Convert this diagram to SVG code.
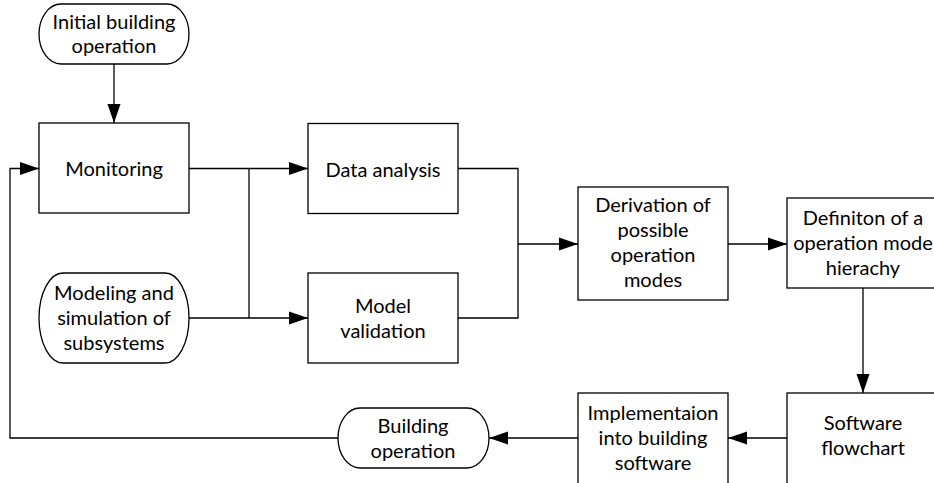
<svg xmlns="http://www.w3.org/2000/svg" width="934" height="483" viewBox="0 0 934 483">
<style>
.box{fill:#fff;stroke:#000;stroke-width:1.3}
.lbl{font-family:Lato,"Open Sans","Liberation Sans",sans-serif;font-size:20px;fill:#000;text-anchor:middle}
.conn{fill:none;stroke:#000;stroke-width:1.3}
</style>
<defs>
<marker id="arr" markerUnits="userSpaceOnUse" markerWidth="22" markerHeight="16" viewBox="-20 -8 22 16" refX="0" refY="0" orient="auto">
<path d="M0,0 L-19,-6.5 L-19,6.5 Z" fill="#000"/>
</marker>
</defs>
<rect width="934" height="483" fill="#fff"/>
<g id="connectors">
<path class="conn" d="M114,64 V123" marker-end="url(#arr)"/>
<path class="conn" d="M189,168.5 H308" marker-end="url(#arr)"/>
<path class="conn" d="M189,318 H308" marker-end="url(#arr)"/>
<path class="conn" d="M249,168.5 V318"/>
<path class="conn" d="M458,168.5 H518 V244 H578" marker-end="url(#arr)"/>
<path class="conn" d="M458,318 H518 V244"/>
<path class="conn" d="M728,244 H787" marker-end="url(#arr)"/>
<path class="conn" d="M863,288 V393" marker-end="url(#arr)"/>
<path class="conn" d="M787,438 H728" marker-end="url(#arr)"/>
<path class="conn" d="M578,438 H489" marker-end="url(#arr)"/>
<path class="conn" d="M338,438 H10 V168.5 H39" marker-end="url(#arr)"/>
</g>
<g id="initial">
<rect class="box" x="39" y="4" width="150" height="60" rx="22" ry="30"/>
<text class="lbl" x="114" y="29">Initial building</text>
<text class="lbl" x="114" y="53">operation</text>
</g>
<g id="monitoring">
<rect class="box" x="39" y="123" width="150" height="90"/>
<text class="lbl" x="114" y="176">Monitoring</text>
</g>
<g id="modeling">
<rect class="box" x="39" y="273" width="150" height="90" rx="24" ry="45"/>
<text class="lbl" x="114" y="300">Modeling and</text>
<text class="lbl" x="114" y="325">simulation of</text>
<text class="lbl" x="114" y="350">subsystems</text>
</g>
<g id="data-analysis">
<rect class="box" x="308" y="123.5" width="150" height="90"/>
<text class="lbl" x="383" y="177">Data analysis</text>
</g>
<g id="model-validation">
<rect class="box" x="308" y="273" width="150" height="90"/>
<text class="lbl" x="383" y="313">Model</text>
<text class="lbl" x="383" y="338">validation</text>
</g>
<g id="derivation">
<rect class="box" x="578" y="187" width="150" height="113"/>
<text class="lbl" x="653" y="212">Derivation of</text>
<text class="lbl" x="653" y="237">possible</text>
<text class="lbl" x="653" y="262">operation</text>
<text class="lbl" x="653" y="287">modes</text>
</g>
<g id="definition">
<rect class="box" x="787" y="198" width="150" height="90"/>
<text class="lbl" x="863" y="225">Definiton of a</text>
<text class="lbl" x="863" y="250">operation mode</text>
<text class="lbl" x="863" y="275">hierachy</text>
</g>
<g id="software-flowchart">
<rect class="box" x="787" y="393" width="150" height="92"/>
<text class="lbl" x="863" y="430">Software</text>
<text class="lbl" x="863" y="455">flowchart</text>
</g>
<g id="implementation">
<rect class="box" x="578" y="393" width="150" height="92"/>
<text class="lbl" x="653" y="420">Implementaion</text>
<text class="lbl" x="653" y="445">into building</text>
<text class="lbl" x="653" y="470">software</text>
</g>
<g id="building-operation">
<rect class="box" x="338" y="408" width="151" height="60" rx="22" ry="30"/>
<text class="lbl" x="413" y="433">Building</text>
<text class="lbl" x="413" y="458">operation</text>
</g>
</svg>
